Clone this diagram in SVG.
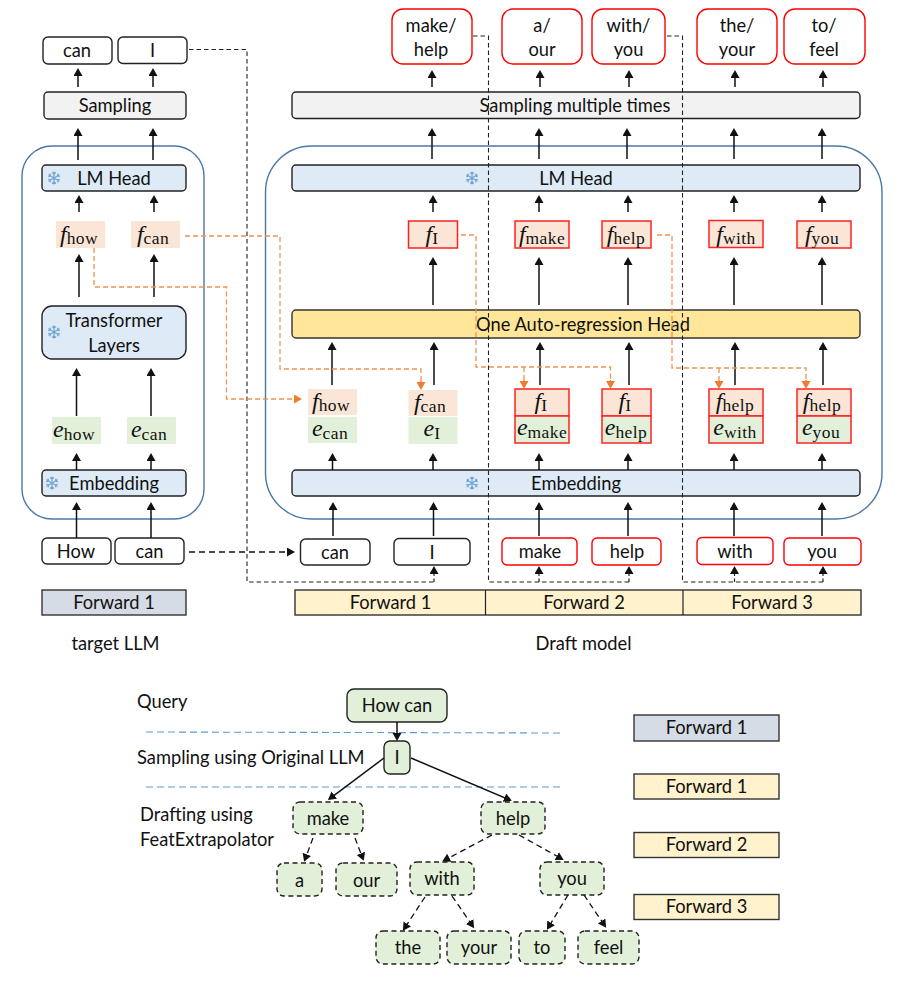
<svg xmlns="http://www.w3.org/2000/svg" width="909" height="987" viewBox="0 0 909 987">
<style>
text{font-family:"Lato","Open Sans","Liberation Sans",sans-serif;font-size:18.3px;fill:#111;text-anchor:middle}
.l{text-anchor:start}
.m{font-family:"Liberation Serif","DejaVu Serif",serif;font-size:17.5px;letter-spacing:.4px}
.i{font-style:italic;font-size:24px;letter-spacing:0}
.w{fill:#fff;stroke:#222;stroke-width:1.4}
.rw{fill:#fff;stroke:#f00;stroke-width:1.4}
.g{fill:#f2f2f2;stroke:#222;stroke-width:1.4}
.bl{fill:#deebf7;stroke:#222;stroke-width:1.4}
.y{fill:#ffe699;stroke:#333;stroke-width:1.4}
.con{fill:none;stroke:#4a78a8;stroke-width:1.4}
.fo{fill:#fbe5d6}
.ef{fill:#e2f0d9}
.rf{fill:#fbe5d6;stroke:#f22;stroke-width:1.5}
.re{fill:#e2f0d9;stroke:#f22;stroke-width:1.5}
.fg{fill:#d6dce5;stroke:#333;stroke-width:1.4}
.fy{fill:#fff2cc;stroke:#333;stroke-width:1.4}
.tg{fill:#e2f0d9;stroke:#222;stroke-width:1.4}
.td{fill:#e2f0d9;stroke:#222;stroke-width:1.4;stroke-dasharray:5 3.5}
.a{fill:none;stroke:#111;stroke-width:1.5;marker-end:url(#ah)}
.d{fill:none;stroke:#222;stroke-width:1.1;stroke-dasharray:4.5 3}
.dm{fill:none;stroke:#111;stroke-width:1.3;stroke-dasharray:6 4;marker-end:url(#ah)}
.da{fill:none;stroke:#222;stroke-width:1.2;stroke-dasharray:3.5 2.5;marker-end:url(#ah)}
.o{fill:none;stroke:#f0924f;stroke-width:1.3;stroke-dasharray:5 3}
.oa{fill:none;stroke:#ed7d31;stroke-width:1.3;stroke-dasharray:4 3;marker-end:url(#ao)}
.q{fill:none;stroke:#5b9bd5;stroke-width:1.1;stroke-dasharray:7 4}
.sn{fill:none;stroke:#6fa3d2;stroke-width:1.2}
</style>
<defs>
<marker id="ah" markerUnits="userSpaceOnUse" markerWidth="10" markerHeight="10" refX="6" refY="4.5" orient="auto"><path d="M0,0L8,4.5L0,9z" fill="#111"/></marker>
<marker id="ao" markerUnits="userSpaceOnUse" markerWidth="10" markerHeight="10" refX="6" refY="4.5" orient="auto"><path d="M0,0L8,4.5L0,9z" fill="#ed7d31"/></marker>
<g id="flake"><path class="sn" d="M0-6.5V6.5M-5.6-3.2L5.6 3.2M-5.6 3.2L5.6-3.2M-1.8-5.5L0-3.8L1.8-5.5M-1.8 5.5L0 3.8L1.8 5.5M-5.7-1.2L-3.4-1.9L-4-4.3M5.7 1.2L3.4 1.9L4 4.3M-5.7 1.2L-3.4 1.9L-4 4.3M5.7-1.2L3.4-1.9L4-4.3"/></g>
</defs>

<g id="containers">
<rect class="con" x="22" y="146" width="182" height="373" rx="30"/>
<rect class="con" x="265.500" y="146" width="616.500" height="373" rx="46"/>
</g>

<g id="target-llm">
<g id="out-can"><rect class="w" x="43" y="37" width="69" height="27" rx="5"/><text x="77" y="57">can</text></g>
<g id="out-I"><rect class="w" x="118" y="37" width="69" height="26.500" rx="5"/><text x="152.500" y="57">I</text></g>
<g id="sampling-l"><rect class="g" x="44" y="92" width="142" height="27" rx="4"/><text x="115" y="111.500">Sampling</text></g>
<g id="lmhead-l"><rect class="bl" x="42" y="165" width="144" height="26" rx="4"/><use href="#flake" x="54" y="178"/><text x="114" y="184.500">LM Head</text></g>
<g id="f-how-l"><rect class="fo" x="56" y="221" width="49" height="27"/><text class="m" x="79" y="244"><tspan class="i" dy="-2">f</tspan><tspan dy="2">how</tspan></text></g>
<g id="f-can-l"><rect class="fo" x="131" y="221" width="49" height="27"/><text class="m" x="153" y="244"><tspan class="i" dy="-2">f</tspan><tspan dy="2">can</tspan></text></g>
<g id="transformer"><rect class="bl" x="42" y="306" width="144" height="53" rx="10"/><use href="#flake" x="54" y="332"/><text x="114" y="327">Transformer</text><text x="114" y="351.500">Layers</text></g>
<g id="e-how-l"><rect class="ef" x="52" y="417" width="49" height="27"/><text class="m" x="74" y="440"><tspan class="i" dy="-3">e</tspan><tspan dy="3">how</tspan></text></g>
<g id="e-can-l"><rect class="ef" x="127" y="417" width="49" height="27"/><text class="m" x="149" y="440"><tspan class="i" dy="-3">e</tspan><tspan dy="3">can</tspan></text></g>
<g id="embedding-l"><rect class="bl" x="42" y="470" width="144" height="26" rx="4"/><use href="#flake" x="52" y="483"/><text x="114" y="489.500">Embedding</text></g>
<g id="in-how"><rect class="w" x="42" y="538" width="69" height="26" rx="5"/><text x="76" y="558">How</text></g>
<g id="in-can"><rect class="w" x="115" y="538" width="69" height="26" rx="5"/><text x="149.500" y="558">can</text></g>
<g id="forward1-l"><rect class="fg" x="42" y="590" width="144" height="25"/><text x="114" y="609">Forward 1</text></g>
<g id="label-target"><text x="115.500" y="650">target LLM</text></g>
</g>

<g id="draft-model">
<g id="out-makehelp"><rect class="rw" x="392" y="9" width="80" height="55" rx="11"/><text x="431" y="32">make/</text><text x="431" y="56">help</text></g>
<g id="out-aour"><rect class="rw" x="502" y="9" width="80" height="55" rx="11"/><text x="542" y="32">a/</text><text x="542" y="56">our</text></g>
<g id="out-withyou"><rect class="rw" x="592" y="9" width="73" height="55" rx="11"/><text x="628.500" y="32">with/</text><text x="628.500" y="56">you</text></g>
<g id="out-theyour"><rect class="rw" x="697" y="9" width="80" height="55" rx="11"/><text x="737" y="32">the/</text><text x="737" y="56">your</text></g>
<g id="out-tofeel"><rect class="rw" x="784" y="9" width="81" height="55" rx="11"/><text x="824" y="32">to/</text><text x="824" y="56">feel</text></g>
<g id="sampling-r"><rect class="g" x="292" y="92" width="568" height="26.500" rx="4"/><text x="575" y="112">Sampling multiple times</text></g>
<g id="lmhead-r"><rect class="bl" x="292" y="165" width="568" height="26" rx="4"/><use href="#flake" x="472" y="178"/><text x="576" y="184.500">LM Head</text></g>
<g id="f-I"><rect class="rf" x="408.500" y="221" width="49" height="27"/><text class="m" x="432" y="244"><tspan class="i" dy="-2">f</tspan><tspan dy="2">I</tspan></text></g>
<g id="f-make"><rect class="rf" x="515" y="221" width="54" height="27"/><text class="m" x="542" y="244"><tspan class="i" dy="-2">f</tspan><tspan dy="2">make</tspan></text></g>
<g id="f-help"><rect class="rf" x="602" y="221" width="49" height="27"/><text class="m" x="626" y="244"><tspan class="i" dy="-2">f</tspan><tspan dy="2">help</tspan></text></g>
<g id="f-with"><rect class="rf" x="709" y="220.500" width="54" height="27"/><text class="m" x="736" y="243.500"><tspan class="i" dy="-2">f</tspan><tspan dy="2">with</tspan></text></g>
<g id="f-you"><rect class="rf" x="797" y="221" width="54" height="27"/><text class="m" x="822" y="244"><tspan class="i" dy="-2">f</tspan><tspan dy="2">you</tspan></text></g>
<g id="auto-head"><rect class="y" x="292" y="310" width="568" height="28" rx="4"/><text x="583" y="330.500">One Auto-regression Head</text></g>
<g id="st1"><rect class="fo" x="308" y="389" width="49" height="26"/><text class="m" x="331" y="411"><tspan class="i" dy="-2">f</tspan><tspan dy="2">how</tspan></text><rect class="ef" x="308" y="417" width="49" height="26"/><text class="m" x="330" y="439"><tspan class="i" dy="-3">e</tspan><tspan dy="3">can</tspan></text></g>
<g id="st2"><rect class="fo" x="408.500" y="390" width="49" height="26"/><text class="m" x="430" y="412"><tspan class="i" dy="-2">f</tspan><tspan dy="2">can</tspan></text><rect class="ef" x="408.500" y="417" width="49" height="27"/><text class="m" x="432" y="439"><tspan class="i" dy="-3">e</tspan><tspan dy="3">I</tspan></text></g>
<g id="st3"><rect class="rf" x="515" y="389" width="54" height="27"/><text class="m" x="541" y="411"><tspan class="i" dy="-2">f</tspan><tspan dy="2">I</tspan></text><rect class="re" x="515" y="416" width="54" height="27"/><text class="m" x="542" y="438"><tspan class="i" dy="-3">e</tspan><tspan dy="3">make</tspan></text></g>
<g id="st4"><rect class="rf" x="602" y="389" width="49" height="27"/><text class="m" x="625" y="411"><tspan class="i" dy="-2">f</tspan><tspan dy="2">I</tspan></text><rect class="re" x="602" y="416" width="49" height="27"/><text class="m" x="626" y="438"><tspan class="i" dy="-3">e</tspan><tspan dy="3">help</tspan></text></g>
<g id="st5"><rect class="rf" x="709" y="389" width="54" height="27"/><text class="m" x="735" y="411"><tspan class="i" dy="-2">f</tspan><tspan dy="2">help</tspan></text><rect class="re" x="709" y="416" width="54" height="27"/><text class="m" x="735" y="438"><tspan class="i" dy="-3">e</tspan><tspan dy="3">with</tspan></text></g>
<g id="st6"><rect class="rf" x="797" y="389" width="54" height="27"/><text class="m" x="822" y="411"><tspan class="i" dy="-2">f</tspan><tspan dy="2">help</tspan></text><rect class="re" x="797" y="416" width="54" height="27"/><text class="m" x="821" y="438"><tspan class="i" dy="-3">e</tspan><tspan dy="3">you</tspan></text></g>
<g id="embedding-r"><rect class="bl" x="292" y="470" width="568" height="26" rx="4"/><use href="#flake" x="472" y="483"/><text x="576" y="489.500">Embedding</text></g>
<g id="tok-can"><rect class="w" x="300.500" y="539" width="69.500" height="26" rx="5"/><text x="335" y="558.500">can</text></g>
<g id="tok-I"><rect class="w" x="394" y="538.500" width="76" height="26.500" rx="5"/><text x="432" y="558.500">I</text></g>
<g id="tok-make"><rect class="rw" x="502" y="538" width="75" height="27" rx="5"/><text x="540" y="558">make</text></g>
<g id="tok-help"><rect class="rw" x="592" y="538" width="69" height="27" rx="5"/><text x="627" y="558">help</text></g>
<g id="tok-with"><rect class="rw" x="697" y="537.500" width="76" height="27" rx="5"/><text x="735" y="557.500">with</text></g>
<g id="tok-you"><rect class="rw" x="784" y="538" width="77" height="27" rx="5"/><text x="822" y="558">you</text></g>
<g id="forward-row"><rect class="fy" x="295" y="590" width="566" height="25"/><path d="M485.500 590V615M683 590V615" stroke="#222" stroke-width="1.2"/><text x="390.500" y="609">Forward 1</text><text x="584" y="609">Forward 2</text><text x="772" y="609">Forward 3</text></g>
<g id="label-draft"><text x="583.500" y="650">Draft model</text></g>
</g>

<g id="connectors">
<path class="a" d="M78 87V70"/><path class="a" d="M153 87V70"/><path class="a" d="M78 160V130"/><path class="a" d="M153 160V130"/><path class="a" d="M79 212V197"/><path class="a" d="M154 212V197"/><path class="a" d="M79 297V256"/><path class="a" d="M154 297V256"/><path class="a" d="M76.500 416V370"/><path class="a" d="M151 416V370"/><path class="a" d="M76.500 470V455"/><path class="a" d="M151 470V455"/><path class="a" d="M76.500 538V504"/><path class="a" d="M151 538V504"/>
<path class="a" d="M432 87V72"/><path class="a" d="M540 87V72"/><path class="a" d="M629 87V72"/><path class="a" d="M735 87V72"/><path class="a" d="M823 87V72"/>
<path class="a" d="M432 159V130"/><path class="a" d="M539 159V130"/><path class="a" d="M627 159V130"/><path class="a" d="M734 159V130"/><path class="a" d="M822 159V130"/>
<path class="a" d="M433 212V197"/><path class="a" d="M539 212V197"/><path class="a" d="M628 212V197"/><path class="a" d="M734 212V197"/><path class="a" d="M822 212V197"/>
<path class="a" d="M433 305V259"/><path class="a" d="M539 305V259"/><path class="a" d="M628 305V259"/><path class="a" d="M734 305V259"/><path class="a" d="M822 305V259"/>
<path class="a" d="M332 385V344"/><path class="a" d="M434 385V344"/><path class="a" d="M540 385V344"/><path class="a" d="M629 385V344"/><path class="a" d="M735 385V344"/><path class="a" d="M823 385V344"/>
<path class="a" d="M332.500 470V455"/><path class="a" d="M433 470V455"/><path class="a" d="M539 470V455"/><path class="a" d="M628 470V455"/><path class="a" d="M734 470V455"/><path class="a" d="M822 470V455"/>
<path class="a" d="M333 536V504"/><path class="a" d="M433.500 536V504"/><path class="a" d="M539 536V504"/><path class="a" d="M628 536V504"/><path class="a" d="M734 536V504"/><path class="a" d="M822 536V504"/>
<path class="dm" d="M189 552H293"/>
<path class="d" d="M189 49.500H247V582H434"/>
<path class="d" d="M473 36H488.500V582H629"/>
<path class="d" d="M667 36H682.500V582H823"/>
<path class="da" d="M434 582V568"/><path class="da" d="M539 582V568"/><path class="da" d="M629 582V568"/><path class="da" d="M734.500 582V568"/><path class="da" d="M823 582V568"/>
<path class="o" d="M94 248V287H226.500V399H294"/><path class="oa" d="M294 399H300"/>
<path class="o" d="M185 236H280V369H421V380"/><path class="oa" d="M421 380V388"/>
<path class="o" d="M461 235H476V367H610.500V380"/><path class="o" d="M524 367V380"/><path class="oa" d="M524 380V387"/><path class="oa" d="M610.500 380V387"/>
<path class="o" d="M657 235H672V368H806V380"/><path class="o" d="M719 368V380"/><path class="oa" d="M719 380V387"/><path class="oa" d="M806 380V387"/>
</g>

<g id="tree">
<g id="labels"><text class="l" x="137" y="708">Query</text><text class="l" x="137" y="764">Sampling using Original LLM</text><text class="l" x="140" y="821">Drafting using</text><text class="l" x="140" y="845.500">FeatExtrapolator</text></g>
<g id="n-howcan"><rect class="tg" x="347" y="689" width="100" height="33" rx="7"/><text x="397" y="712">How can</text></g>
<g id="n-I"><rect class="tg" x="384" y="741" width="26" height="33" rx="6"/><text x="397" y="764">I</text></g>
<g id="n-make"><rect class="td" x="293" y="802" width="70" height="32" rx="7"/><text x="328" y="825">make</text></g>
<g id="n-help"><rect class="td" x="481" y="802" width="64" height="32" rx="7"/><text x="513" y="825">help</text></g>
<g id="n-a"><rect class="td" x="277" y="863" width="45" height="33" rx="7"/><text x="299.500" y="887">a</text></g>
<g id="n-our"><rect class="td" x="336" y="863" width="61" height="33" rx="7"/><text x="366.500" y="887">our</text></g>
<g id="n-with"><rect class="td" x="410" y="862" width="64" height="33" rx="7"/><text x="442" y="885">with</text></g>
<g id="n-you"><rect class="td" x="540" y="862" width="64" height="33" rx="7"/><text x="572" y="885">you</text></g>
<g id="n-the"><rect class="td" x="376" y="931" width="64" height="33" rx="7"/><text x="408" y="954">the</text></g>
<g id="n-your"><rect class="td" x="447" y="931" width="64" height="33" rx="7"/><text x="479" y="954">your</text></g>
<g id="n-to"><rect class="td" x="519" y="931" width="46" height="33" rx="7"/><text x="542" y="954">to</text></g>
<g id="n-feel"><rect class="td" x="578" y="931" width="61" height="33" rx="7"/><text x="608.500" y="954">feel</text></g>
<g id="tree-connectors">
<path class="q" d="M146 732L561 733M146 787H563"/>
<path class="a" d="M397 722V739"/><path class="a" d="M384 758L329.500 798.800"/><path class="a" d="M411 758L510 800"/>
<path class="dm" d="M313 838L304.800 860"/><path class="dm" d="M355 838L363 859"/><path class="dm" d="M492 835L444 860.500"/><path class="dm" d="M519 835L562 859"/><path class="dm" d="M425 897L404 929"/><path class="dm" d="M452 896L473 926.500"/><path class="dm" d="M568 895L548 928"/><path class="dm" d="M584 895L605 926"/>
</g>
<g id="legend">
<g id="leg1"><rect class="fg" x="634" y="715" width="145" height="26"/><text x="706.500" y="734">Forward 1</text></g>
<g id="leg2"><rect class="fy" x="634" y="774" width="145" height="25"/><text x="706.500" y="793">Forward 1</text></g>
<g id="leg3"><rect class="fy" x="634" y="832.500" width="145" height="25"/><text x="706.500" y="851">Forward 2</text></g>
<g id="leg4"><rect class="fy" x="634" y="894.500" width="145" height="25"/><text x="706.500" y="913">Forward 3</text></g>
</g>
</g>
</svg>
